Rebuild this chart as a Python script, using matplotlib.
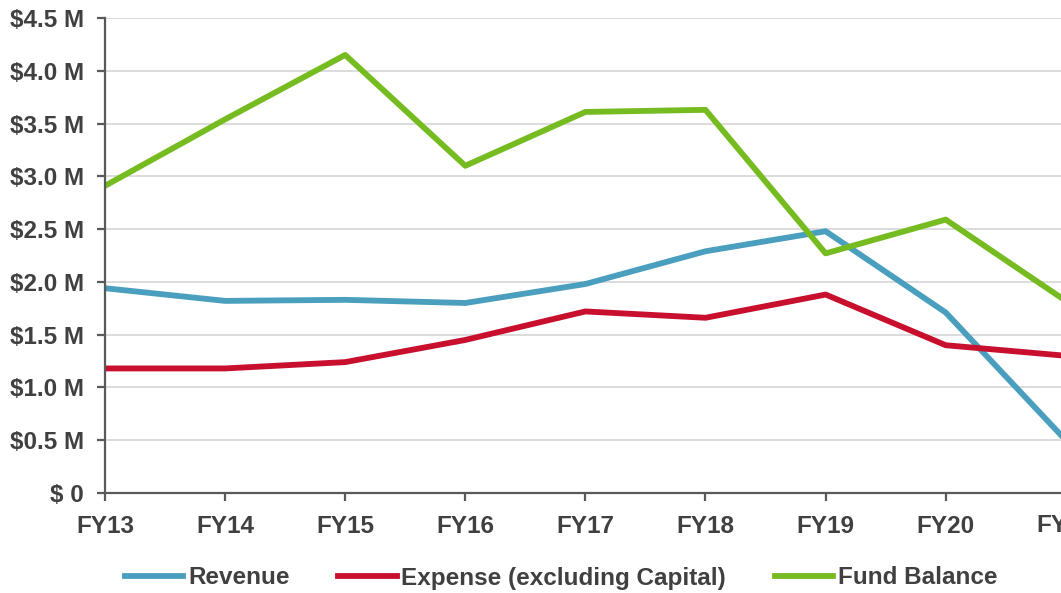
import matplotlib.pyplot as plt
from matplotlib.transforms import blended_transform_factory

years = ["FY13", "FY14", "FY15", "FY16", "FY17", "FY18", "FY19", "FY20", "FY21"]
revenue = [1.94, 1.82, 1.83, 1.80, 1.98, 2.29, 2.48, 1.71, 0.50]
expense = [1.18, 1.18, 1.24, 1.45, 1.72, 1.66, 1.88, 1.40, 1.30]
fund_balance = [2.91, 3.54, 4.15, 3.10, 3.61, 3.63, 2.27, 2.59, 1.82]
y_ticks = [0, 0.5, 1.0, 1.5, 2.0, 2.5, 3.0, 3.5, 4.0, 4.5]
y_labels = ["$ 0", "$0.5 M", "$1.0 M", "$1.5 M", "$2.0 M", "$2.5 M",
            "$3.0 M", "$3.5 M", "$4.0 M", "$4.5 M"]

plt.rcParams['font.family'] = ['Liberation Sans', 'DejaVu Sans']
text_color = '#404040'
fs = 17.5

fig = plt.figure(figsize=(10.61, 5.93), dpi=100)
ax = fig.add_axes([105 / 1061, 1 - 493 / 593, (1061 - 105) / 1061, (493 - 18) / 593])

x = list(range(len(years)))
ax.plot(x, revenue, color='#4A9FBE', lw=4.2, label='Revenue')
ax.plot(x, expense, color='#C8102E', lw=4.2, label='Expense (excluding Capital)')
ax.plot(x, fund_balance, color='#76BC21', lw=4.2, label='Fund Balance')

ax.set_xlim(0, (1061 - 105) / 120.1)
ax.set_ylim(0, 4.5)
ax.set_yticks(y_ticks)
ax.set_yticklabels(y_labels)
ax.set_xticks(x[:8])
ax.set_xticklabels(years[:8])

# last label sits past the crop edge, like the reference
trans = blended_transform_factory(ax.transData, ax.transAxes)
ax.text(8, -0.045, years[8], transform=trans, ha='center', va='top',
        fontsize=fs, fontweight='bold', color=text_color, clip_on=False)

ax.grid(axis='y', color='#d9d9d9', lw=1.3)
ax.set_axisbelow(True)
for s in ['top', 'right']:
    ax.spines[s].set_visible(False)
for s in ['left', 'bottom']:
    ax.spines[s].set_color('#595959')
    ax.spines[s].set_linewidth(1.6)
ax.tick_params(axis='both', colors='#595959', width=1.6, length=6, labelcolor=text_color,
               labelsize=fs)
ax.tick_params(axis='x', pad=9.5)
ax.tick_params(axis='y', pad=9)
for lab in ax.get_xticklabels() + ax.get_yticklabels():
    lab.set_fontweight('bold')

fig.legend(loc='center', bbox_to_anchor=(0.529, 1 - 578 / 593), ncol=3, frameon=False,
           prop={'size': fs, 'weight': 'bold'}, labelcolor=text_color,
           handlelength=2.4, handletextpad=0.2, columnspacing=2.0)

plt.savefig('out.png', dpi=100)
